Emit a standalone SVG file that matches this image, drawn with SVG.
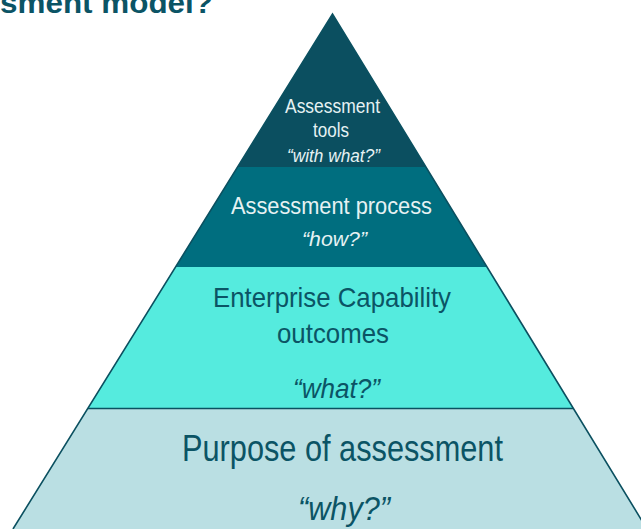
<svg xmlns="http://www.w3.org/2000/svg" width="641" height="529" viewBox="0 0 641 529">
<style>
.t{font-family:"Liberation Sans",Arial,sans-serif;text-anchor:start}
.i{font-style:italic}
.light{fill:#e6f2f3}
.dark{fill:#0b5465}
.edge{fill:none;stroke:#0b5060;stroke-width:1.6}
</style>
<rect width="641" height="529" fill="#ffffff"/>
<text class="t" x="0" y="12.5" font-size="30" font-weight="bold" fill="#0b5465" textLength="213" lengthAdjust="spacingAndGlyphs">sment model?</text>
<g id="layer-purpose">
<polygon points="88,408 573,408 647,529 13,529" fill="#badfe3"/>
<text class="t dark" x="182" y="461" font-size="36" textLength="321" lengthAdjust="spacingAndGlyphs">Purpose of assessment</text>
<text class="t i dark" x="298" y="520" font-size="33" textLength="92" lengthAdjust="spacingAndGlyphs">“why?”</text>
</g>
<g id="layer-outcomes">
<polygon points="175.5,267 487,267 573,408 88,408" fill="#55ebde"/>
<text class="t dark" x="213" y="307" font-size="28" textLength="238" lengthAdjust="spacingAndGlyphs">Enterprise Capability</text>
<text class="t dark" x="277" y="343" font-size="28" textLength="112" lengthAdjust="spacingAndGlyphs">outcomes</text>
<text class="t i dark" x="293" y="398" font-size="27" textLength="87" lengthAdjust="spacingAndGlyphs">“what?”</text>
</g>
<g id="layer-process">
<polygon points="237.5,167 426,167 487,267 175.5,267" fill="#006e7f"/>
<text class="t light" x="231" y="214" font-size="24" textLength="201" lengthAdjust="spacingAndGlyphs">Assessment  process</text>
<text class="t i light" x="302" y="246" font-size="21" textLength="65" lengthAdjust="spacingAndGlyphs">“how?”</text>
</g>
<g id="layer-tools">
<polygon points="332.5,14 426,167 237.5,167" fill="#0b4f60"/>
<text class="t light" x="285" y="113" font-size="21" textLength="95" lengthAdjust="spacingAndGlyphs">Assessment</text>
<text class="t light" x="313" y="137" font-size="21" textLength="36" lengthAdjust="spacingAndGlyphs">tools</text>
<text class="t i light" x="287" y="162" font-size="17.5" textLength="93" lengthAdjust="spacingAndGlyphs">“with what?”</text>
</g>
<g id="connectors">
<path class="edge" d="M13,529 L332.5,14 L647,529"/>
<line class="edge" x1="88" y1="408.5" x2="573" y2="408.5" stroke-width="2.2"/>
</g>
</svg>
